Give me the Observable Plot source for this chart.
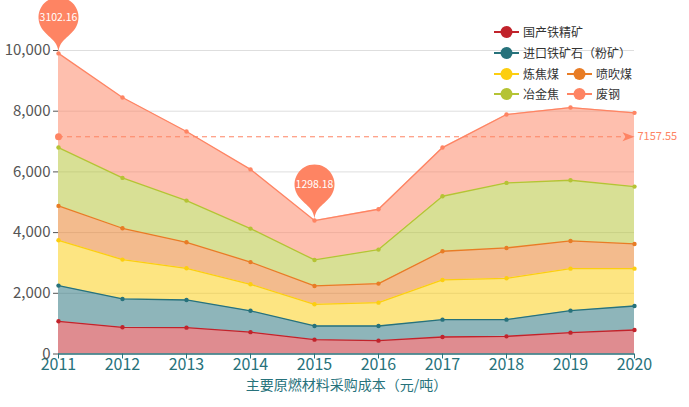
<!DOCTYPE html>
<html><head><meta charset="utf-8">
<script src="https://cdn.jsdelivr.net/npm/d3@7"></script>
<script src="https://cdn.jsdelivr.net/npm/@observablehq/plot@0.6"></script>
<style>
body{margin:0;background:#fff;font-family:"Noto Sans CJK SC","Noto Sans",sans-serif;}
#wrap{position:relative;width:689px;height:407px;overflow:hidden;}
#legend{position:absolute;left:0;top:0;}
.item{position:absolute;display:flex;align-items:center;font-size:12px;color:#333;white-space:nowrap;line-height:14px;}
.item svg{margin-right:4px;}
</style></head><body>
<div id="wrap"><div id="chart"></div><div id="legend"></div></div>
<script>
// ---- data ----
const years = [2011, 2012, 2013, 2014, 2015, 2016, 2017, 2018, 2019, 2020];
const seriesNames = ["国产铁精矿", "进口铁矿石（粉矿）", "炼焦煤", "喷吹煤", "冶金焦", "废钢"];
const domesticOre = [1077, 879, 868, 720, 473, 440, 560, 582, 703, 791];
const importedOre = [1176, 934, 912, 704, 450, 483, 572, 550, 726, 791];
const cokingCoal  = [1494, 1297, 1044, 873, 714, 769, 1308, 1363, 1384, 1231];
const pciCoal     = [1132, 1033, 857, 731, 605, 627, 945, 1000, 912, 813];
const metCoke     = [1923, 1659, 1374, 1104, 857, 1121, 1813, 2142, 2000, 1890];
const scrap       = [3102.16, 2649, 2275, 1951, 1298.18, 1329, 1604, 2253, 2396, 2429];
const scrapMean = 7157.55;
const yTicks = [0, 2000, 4000, 6000, 8000, 10000];
const xAxisTitle = "主要原燃材料采购成本（元/吨）";

// ---- styles ----
const colors = ["#C1232B", "#27727B", "#FCCE10", "#E87C25", "#B5C334", "#FE8463"];
const teal = "#27727B";
const salmon = "#FE8463";
const font = '"Noto Sans CJK SC","Noto Sans",sans-serif';

const seriesValues = [domesticOre, importedOre, cokingCoal, pciCoal, metCoke, scrap];
const table = seriesNames.flatMap((name, s) =>
  years.map((year, i) => ({year, series: name, value: seriesValues[s][i]})));
const totals = years.map((_, i) => d3.sum(seriesValues, v => v[i]));
const iMax = d3.maxIndex(scrap), iMin = d3.minIndex(scrap);
const pins = [iMax, iMin].map(i => ({year: years[i], top: totals[i], label: scrap[i].toFixed(2)}));

const pinSymbol = {draw(ctx) {
  const r = 20, h = 65;
  const dy = r * r / (h - r), cy = -h + r + dy;
  const a = Math.asin(dy / r), dx = Math.cos(a) * r;
  const tx = Math.sin(a), ty = Math.cos(a), c1 = r * 0.6, c2 = r * 0.7;
  ctx.moveTo(-dx, cy + dy);
  ctx.arc(0, cy, r, Math.PI - a, Math.PI * 2 + a);
  ctx.bezierCurveTo(dx - tx * c1, cy + dy + ty * c1, 0, -c2, 0, 0);
  ctx.bezierCurveTo(0, -c2, -dx + tx * c1, cy + dy + ty * c1, -dx, cy + dy);
  ctx.closePath();
}};
const arrowSymbol = {draw(ctx) {
  ctx.moveTo(0, 0); ctx.lineTo(-12, -4.5); ctx.lineTo(-9, 0); ctx.lineTo(-12, 4.5); ctx.closePath();
}};

const stackOpts = {x: "year", y: "value", z: "series", order: seriesNames};

const chart = Plot.plot({
  width: 689, height: 407,
  marginLeft: 58, marginRight: 55, marginTop: 50, marginBottom: 53.5,
  x: {domain: [years[0], years[years.length - 1]]},
  y: {domain: [0, 10000]},
  color: {domain: seriesNames, range: colors},
  style: {fontFamily: font, fontSize: "12px", background: "transparent"},
  marks: [
    Plot.gridY({ticks: yTicks.slice(1), stroke: "#dedede", strokeOpacity: 1}),
    Plot.areaY(table, Plot.stackY({...stackOpts, fill: "series", fillOpacity: 0.52})),
    Plot.lineY(table, Plot.stackY2({...stackOpts, stroke: "series", strokeWidth: 1.3})),
    Plot.dot(table, Plot.stackY2({...stackOpts, fill: "series", r: 2.2})),
    Plot.ruleY([0], {stroke: teal, strokeWidth: 1.5}),
    Plot.axisX({ticks: years, tickFormat: d => String(d), tickSize: 5, tickPadding: 0, fontSize: 16, color: teal, label: null}),
    Plot.axisY({ticks: yTicks, tickFormat: d3.format(","), tickSize: 5, tickPadding: 3, fontSize: 15, color: "#555", label: null}),
    Plot.text([xAxisTitle], {frameAnchor: "bottom", dy: 36, fontSize: 14, fill: teal}),
    Plot.ruleY([scrapMean], {x1: years[0], x2: years[years.length - 1], stroke: salmon, strokeDasharray: "5,4", strokeWidth: 1}),
    Plot.dot([scrapMean], {x: years[0], y: d => d, r: 3.5, fill: salmon}),
    Plot.dot([scrapMean], {x: years[years.length - 1], y: d => d, symbol: arrowSymbol, fill: salmon}),
    Plot.text([scrapMean], {x: years[years.length - 1], y: d => d, text: d => d.toFixed(2), dx: 3, textAnchor: "start", fill: salmon, fontSize: 11}),
    Plot.dot(pins, {x: "year", y: "top", symbol: pinSymbol, fill: salmon}),
    Plot.text(pins, {x: "year", y: "top", text: "label", dy: -36, fill: "white", fontSize: 10.5})
  ]
});
document.getElementById("chart").appendChild(chart);

// ---- legend (HTML overlay) ----
const legendPos = [[494, 32], [494, 52.5], [494, 73.5], [567, 73.5], [494, 94.3], [567, 94.3]];
const legend = document.getElementById("legend");
seriesNames.forEach((name, i) => {
  const [x, y] = legendPos[i];
  const el = document.createElement("div");
  el.className = "item";
  el.style.left = x + "px";
  el.style.top = (y - 7) + "px";
  el.innerHTML = `<svg width="25" height="14"><line x1="0" x2="25" y1="7" y2="7" stroke="${colors[i]}" stroke-width="2"/><circle cx="12.5" cy="7" r="6" fill="${colors[i]}"/></svg><span>${name}</span>`;
  legend.appendChild(el);
});
</script></body></html>
